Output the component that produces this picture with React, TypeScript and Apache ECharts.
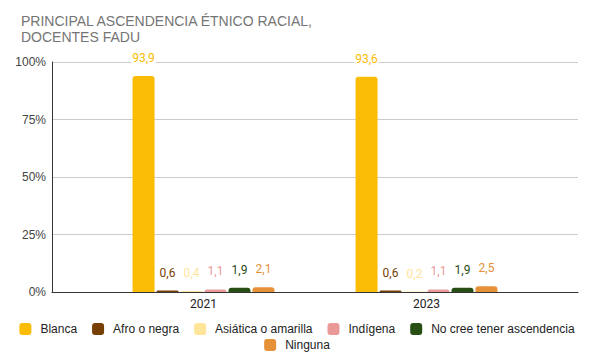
import React, { useEffect, useRef } from "react";
import * as echarts from "echarts";

const categories = ["2021", "2023"];
const seriesNames = [
  "Blanca",
  "Afro o negra",
  "Asiática o amarilla",
  "Indígena",
  "No cree tener ascendencia",
  "Ninguna",
];
const seriesColors = ["#FBBC04", "#783F04", "#FFE599", "#EA9999", "#274E13", "#E69138"];
const blanca = [93.9, 93.6];
const afro = [0.6, 0.6];
const asiatica = [0.4, 0.2];
const indigena = [1.1, 1.1];
const noCree = [1.9, 1.9];
const ninguna = [2.1, 2.5];
const seriesValues = [blanca, afro, asiatica, indigena, noCree, ninguna];
const yTicks = [0, 25, 50, 75, 100];

export default function App() {
  const ref = useRef<HTMLDivElement>(null);
  useEffect(() => {
    if (!ref.current) return;
    const chart = echarts.init(ref.current, null, { renderer: "svg" });
    const font = "'Liberation Sans', Arial, sans-serif";
    const legendCommon = {
      left: "center",
      itemWidth: 12,
      itemHeight: 12,
      itemGap: 15,
      icon: "roundRect",
      textStyle: { fontFamily: font, fontSize: 12, color: "#222222", padding: [0, 0, 0, 4] },
    };
    chart.setOption({
      animation: false,
      backgroundColor: "#ffffff",
      title: {
        text: "PRINCIPAL ASCENDENCIA ÉTNICO RACIAL,\nDOCENTES FADU",
        left: 16,
        top: 8,
        textStyle: {
          fontFamily: font,
          fontSize: 14,
          fontWeight: "normal",
          color: "#757575",
          lineHeight: 16,
        },
      },
      legend: [
        { ...legendCommon, data: seriesNames.slice(0, 5), top: 318 },
        { ...legendCommon, data: seriesNames.slice(5), top: 334 },
      ],
      grid: [
        { left: 52, right: 16, top: 62, bottom: 72 },
        { left: 92, right: 56, top: 62, bottom: 72 },
      ],
      xAxis: [
        {
          gridIndex: 0,
          type: "category",
          data: [""],
          axisLine: { show: true, lineStyle: { color: "#333333", width: 1 } },
          axisTick: { show: false },
          axisLabel: { show: false },
        },
        {
          gridIndex: 1,
          type: "category",
          data: categories,
          axisLine: { show: false },
          axisTick: { show: false },
          axisLabel: {
            margin: 6,
            fontFamily: "Roboto, sans-serif",
            fontSize: 12,
            color: "#222222",
          },
        },
      ],
      yAxis: [
        {
          gridIndex: 0,
          type: "value",
          min: yTicks[0],
          max: yTicks[yTicks.length - 1],
          interval: 25,
          axisLine: { show: true, lineStyle: { color: "#333333", width: 1 } },
          axisTick: { show: false },
          axisLabel: {
            formatter: "{value}%",
            margin: 6,
            fontFamily: font,
            fontSize: 12,
            color: "#444444",
          },
          splitLine: { show: true, lineStyle: { color: "#cccccc", width: 1 } },
        },
        {
          gridIndex: 1,
          type: "value",
          min: yTicks[0],
          max: yTicks[yTicks.length - 1],
          interval: 25,
          show: false,
          splitLine: { show: false },
        },
      ],
      series: seriesNames.map((name, i) => ({
        name,
        type: "bar",
        xAxisIndex: 1,
        yAxisIndex: 1,
        data: seriesValues[i],
        barWidth: 22,
        barGap: "9%",
        itemStyle: { color: seriesColors[i], borderRadius: [3, 3, 0, 0] },
        label: {
          show: true,
          position: "top",
          distance: 12,
          color: seriesColors[i],
          fontFamily: "Roboto, sans-serif",
          fontSize: 12,
          backgroundColor: "#ffffff",
          padding: [0, 1],
          formatter: (p: any) => Number(p.value).toFixed(1).replace(".", ","),
        },
      })),
    });
    return () => chart.dispose();
  }, []);
  return <div ref={ref} style={{ width: 594, height: 364, margin: -8 }} />;
}
